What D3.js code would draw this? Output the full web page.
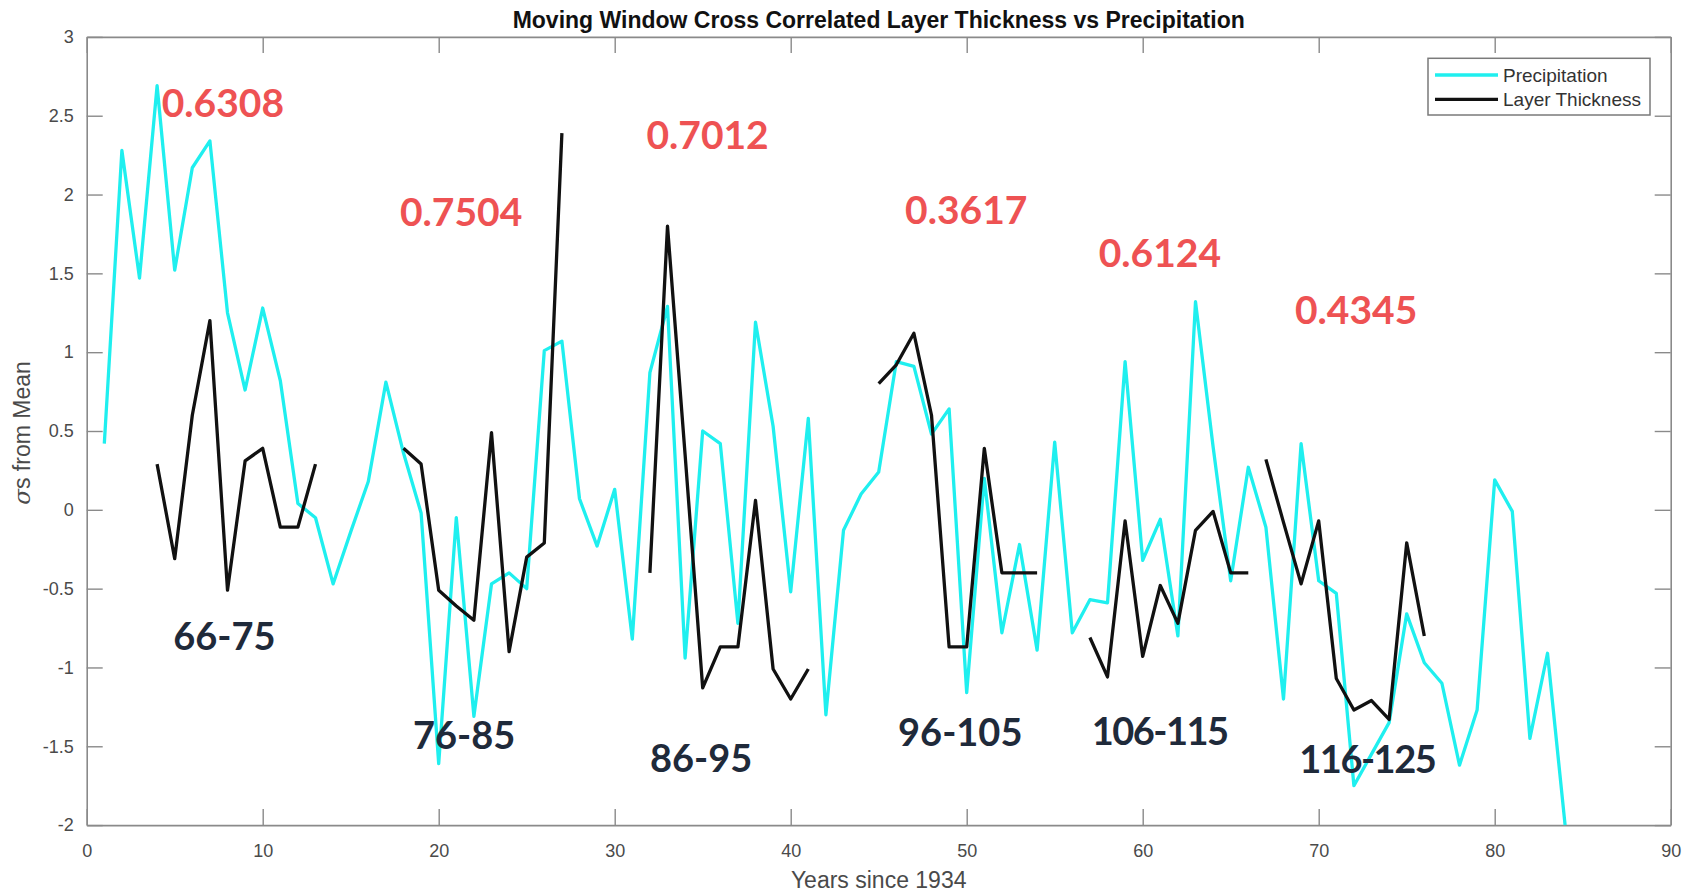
<!DOCTYPE html>
<html>
<head>
<meta charset="utf-8">
<script src="https://cdn.jsdelivr.net/npm/d3@7/dist/d3.min.js"></script>
<style>
  html, body { margin: 0; padding: 0; background: #ffffff; }
  svg { display: block; }
</style>
</head>
<body>
<svg id="chart" width="1696" height="892"></svg>
<script>
// ---------------- DATA ----------------
const years = d3.range(1, 85);
const precipitation = [
  0.42, 2.28, 1.47, 2.69, 1.52, 2.17, 2.34, 1.25, 0.76, 1.28,
  0.82, 0.04, -0.05, -0.47, -0.14, 0.18, 0.81, 0.36, -0.02, -1.61,
  -0.05, -1.31, -0.47, -0.40, -0.50, 1.01, 1.07, 0.07, -0.23, 0.13,
  -0.82, 0.87, 1.29, -0.94, 0.50, 0.42, -0.72, 1.19, 0.53, -0.52,
  0.58, -1.30, -0.13, 0.10, 0.24, 0.94, 0.91, 0.48, 0.64, -1.16,
  0.20, -0.78, -0.22, -0.89, 0.43, -0.78, -0.57, -0.59, 0.94, -0.32,
  -0.06, -0.80, 1.32, 0.40, -0.45, 0.27, -0.11, -1.20, 0.42, -0.45,
  -0.53, -1.75, -1.55, -1.35, -0.66, -0.97, -1.10, -1.62, -1.27, 0.19,
  -0.01, -1.45, -0.91, -2.00
];
// layer thickness windows (start year of each 10-year window)
const windowStarts = [4, 18, 32, 45, 57, 67];
const windowThickness = [
  [0.29, -0.31, 0.60, 1.20, -0.51, 0.31, 0.39, -0.11, -0.11, 0.29],
  [0.39, 0.29, -0.51, -0.61, -0.70, 0.49, -0.90, -0.30, -0.21, 2.39],
  [-0.40, 1.80, 0.35, -1.13, -0.87, -0.87, 0.06, -1.01, -1.20, -1.01],
  [0.80, 0.92, 1.12, 0.60, -0.87, -0.87, 0.39, -0.40, -0.40, -0.40],
  [-0.81, -1.06, -0.07, -0.93, -0.48, -0.72, -0.13, -0.01, -0.40, -0.40],
  [0.32, -0.08, -0.47, -0.07, -1.07, -1.27, -1.21, -1.33, -0.21, -0.80]
];
const correlations = ["0.6308", "0.7504", "0.7012", "0.3617", "0.6124", "0.4345"];
const corrAnchorX = [4.26, 17.8, 31.8, 46.5, 57.5, 68.65];
const corrAnchorY = [2.49, 1.80, 2.29, 1.81, 1.54, 1.18];
const rangeLabels = ["66-75", "76-85", "86-95", "96-105", "106-115", "116-125"];
const rangeAnchorX = [4.92, 18.54, 32.0, 46.1, 57.1, 68.9];
const rangeAnchorY = [-0.89, -1.52, -1.66, -1.50, -1.49, -1.67];
const xTicks = [0, 10, 20, 30, 40, 50, 60, 70, 80, 90];
const yTicks = [-2, -1.5, -1, -0.5, 0, 0.5, 1, 1.5, 2, 2.5, 3];
const seriesNames = ["Precipitation", "Layer Thickness"];
const titleText = "Moving Window Cross Correlated Layer Thickness vs Precipitation";
const xLabelText = "Years since 1934";

// ---------------- LAYOUT ----------------
const W = 1696, H = 892;
const L = 86.7, R = 1670.7, T = 36.9, B = 825.1;
const cyan = "#1fefef", black = "#111111", axisCol = "#8a8a8a", tickTextCol = "#4a4a4a";
const redCol = "#ee5253", navy = "#1f2a3a";

const svg = d3.select("#chart");
svg.append("rect").attr("width", W).attr("height", H).attr("fill", "#fff");

const x = d3.scaleLinear().domain([0, 90]).range([L, R]);
const y = d3.scaleLinear().domain([-2, 3]).range([B, T]);

svg.append("defs").append("clipPath").attr("id", "clip")
  .append("rect").attr("x", L).attr("y", T - 2).attr("width", R - L).attr("height", B - T + 4);

// axes
function styleAxis(g) {
  g.selectAll(".domain").attr("stroke", axisCol).attr("stroke-width", 1.6);
  g.selectAll(".tick line").attr("stroke", axisCol).attr("stroke-width", 1.4);
  g.selectAll(".tick text").attr("fill", tickTextCol)
    .style("font-family", "'Liberation Sans', Arial, sans-serif").style("font-size", "18px");
}
const fmt = d => String(d);
svg.append("g").attr("transform", `translate(0,${B})`)
  .call(d3.axisBottom(x).tickValues(xTicks).tickFormat(fmt).tickSizeInner(-16).tickSizeOuter(0).tickPadding(19))
  .call(styleAxis);
svg.append("g").attr("transform", `translate(0,${T})`)
  .call(d3.axisTop(x).tickValues(xTicks).tickFormat("").tickSizeInner(-16).tickSizeOuter(0))
  .call(styleAxis);
svg.append("g").attr("transform", `translate(${L},0)`)
  .call(d3.axisLeft(y).tickValues(yTicks).tickFormat(fmt).tickSizeInner(-16).tickSizeOuter(0).tickPadding(13))
  .call(styleAxis);
svg.append("g").attr("transform", `translate(${R},0)`)
  .call(d3.axisRight(y).tickValues(yTicks).tickFormat("").tickSizeInner(-16).tickSizeOuter(0))
  .call(styleAxis);

// lines
const plot = svg.append("g").attr("clip-path", "url(#clip)");
const line = d3.line().x(d => x(d[0])).y(d => y(d[1]));
plot.append("path")
  .datum(years.map((yr, i) => [yr, precipitation[i]]))
  .attr("d", line).attr("fill", "none").attr("stroke", cyan)
  .attr("stroke-width", 3.3).attr("stroke-linejoin", "round");
windowThickness.forEach((vals, k) => {
  plot.append("path")
    .datum(vals.map((v, i) => [windowStarts[k] + i, v]))
    .attr("d", line).attr("fill", "none").attr("stroke", black)
    .attr("stroke-width", 3.3).attr("stroke-linejoin", "round");
});

// annotations
const annoFont = "Lato, 'Open Sans', sans-serif";
correlations.forEach((t, i) => {
  svg.append("text").attr("x", x(corrAnchorX[i])).attr("y", y(corrAnchorY[i]))
    .attr("fill", redCol).style("font-family", annoFont).style("font-weight", 700)
    .style("font-size", "39px").text(t);
});
rangeLabels.forEach((t, i) => {
  svg.append("text").attr("x", x(rangeAnchorX[i])).attr("y", y(rangeAnchorY[i]))
    .attr("fill", navy).style("font-family", annoFont).style("font-weight", 700)
    .style("font-size", "38px").style("letter-spacing", t.length > 6 ? "-1.5px" : "0px").text(t);
});

// title & axis labels
svg.append("text").attr("x", (L + R) / 2).attr("y", 28).attr("text-anchor", "middle")
  .attr("fill", "#111").style("font-family", "'Liberation Sans', Arial, sans-serif")
  .style("font-weight", 700).style("font-size", "23px").text(titleText);
svg.append("text").attr("x", (L + R) / 2).attr("y", 888).attr("text-anchor", "middle")
  .attr("fill", tickTextCol).style("font-family", "'Liberation Sans', Arial, sans-serif")
  .style("font-size", "23px").text(xLabelText);
const yl = svg.append("text").attr("transform", `translate(30,${(T + B) / 2 + 2}) rotate(-90)`)
  .attr("text-anchor", "middle").attr("fill", tickTextCol)
  .style("font-family", "'Liberation Sans', Arial, sans-serif").style("font-size", "23px");
yl.append("tspan").style("font-style", "italic").style("font-family", "'DejaVu Serif', serif").text("σ");
yl.append("tspan").text("s from Mean");

// legend
const lg = svg.append("g");
lg.append("rect").attr("x", 1428).attr("y", 58.3).attr("width", 222).attr("height", 56.7)
  .attr("fill", "#fff").attr("stroke", "#7a7a7a").attr("stroke-width", 1.5);
const legendColors = [cyan, black];
seriesNames.forEach((n, i) => {
  const ly = 75 + i * 24.3;
  lg.append("line").attr("x1", 1435).attr("x2", 1498).attr("y1", ly).attr("y2", ly)
    .attr("stroke", legendColors[i]).attr("stroke-width", 3.3);
  lg.append("text").attr("x", 1503).attr("y", ly).attr("dy", "0.35em")
    .attr("fill", "#333").style("font-family", "'Liberation Sans', Arial, sans-serif")
    .style("font-size", "19px").text(n);
});
</script>
</body>
</html>
